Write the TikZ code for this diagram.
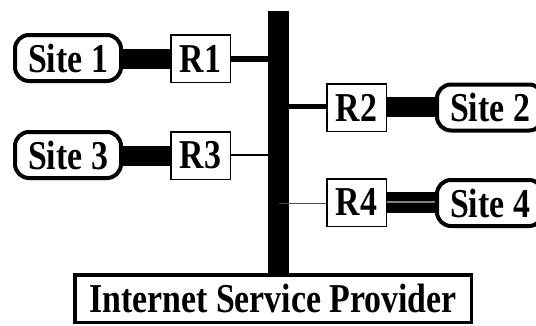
\documentclass[tikz,border=0pt]{standalone}
\usepackage{fontspec}
\newfontfamily\diafont{Liberation Serif}[FakeStretch=0.825]
\begin{document}
\begin{tikzpicture}[x=1pt,y=-1pt,
  lbl/.style={font=\diafont\bfseries\fontsize{41}{41}\selectfont, inner sep=0pt},
  sitebox/.style={lbl, draw, line width=4pt, rounded corners=14pt,
                  minimum width=106pt, minimum height=46pt},
  routerbox/.style={lbl, draw, line width=1.5pt, fill=white,
                    minimum width=59.5pt, minimum height=47.5pt},
  ispbox/.style={lbl, draw, line width=3.5pt, fill=white,
                 minimum width=396.5pt, minimum height=47.5pt},
  access/.style={line width=20.5pt},
]
\useasboundingbox (0,0) rectangle (536,325);
\clip (0,0) rectangle (536,325);

% backbone bus
\node[fill=black, inner sep=0pt, minimum width=21.5pt, minimum height=262pt] (bus) at (278.5,142) {};

% routers
\node[routerbox] (r1) at (200.5,58.5) {R1};
\node[routerbox] (r3) at (200.5,155.5) {R3};
\node[routerbox] (r2) at (356.5,107.5) {R2};
\node[routerbox] (r4) at (356.5,202.5) {R4};

% customer sites
\node[sitebox] (s1) at (68,58) {Site 1};
\node[sitebox] (s3) at (68,155) {Site 3};
\node[sitebox] (s2) at (490,107.5) {Site 2\hspace{8pt}};
\node[sitebox] (s4) at (490,203) {Site 4\hspace{8pt}};

% provider
\node[ispbox] (isp) at (273,298.5) {Internet Service Provider\hspace{10pt}};

% access links site -- router
\draw[access] (s1.east |- 0,59) -- (r1.west |- 0,59);
\draw[access] (s3.east |- 0,156) -- (r3.west |- 0,156);
\draw[access] (r2.east |- 0,107) -- (s2.west |- 0,107);
\draw[access, line width=21.5pt] (r4.east |- 0,202.5) -- (s4.west |- 0,202.5);
\draw[line width=1.2pt, gray] (r4.east |- 0,202) -- (s4.west |- 0,202);

% router -- bus links
\draw[line width=6pt] (r1.east |- 0,59) -- (bus.center |- 0,59);
\draw[line width=1.5pt] (r3.east |- 0,155) -- (bus.west |- 0,155);
\draw[line width=4.5pt] (bus.center |- 0,106.7) -- (r2.west |- 0,106.7);
\draw[line width=1pt, black!70] (bus.center |- 0,203) -- (r4.west |- 0,203);
\end{tikzpicture}
\end{document}
